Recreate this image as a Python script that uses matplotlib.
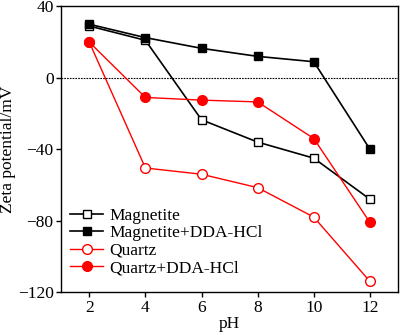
import matplotlib
matplotlib.use("Agg")
import matplotlib.pyplot as plt

plt.rcParams["font.family"] = "Liberation Serif"
plt.rcParams["font.size"] = 12.5

ph = [2, 4, 6, 8, 10, 12]
magnetite = [29, 21, -23.5, -36, -45, -68]
magnetite_dda = [30, 22.5, 16.5, 12, 9, -40]
quartz = [20, -50.5, -54, -61.5, -78, -114]
quartz_dda = [20, -11, -12.5, -13.5, -34, -81]

fig = plt.figure(figsize=(4.0, 3.35), dpi=100)
ax = fig.add_axes([0.153, 0.128, 0.842, 0.853])

ax.axhline(0, color="black", lw=0.8, ls=(0, (1.5, 1)))

ax.plot(ph, magnetite, color="black", lw=1.2, marker="s", ms=6,
        mfc="white", mec="black", mew=1.0, label="Magnetite")
ax.plot(ph, magnetite_dda, color="black", lw=1.2, marker="s", ms=6,
        mfc="black", mec="black", label="Magnetite+DDA-HCl")
ax.plot(ph, quartz, color="red", lw=1.0, marker="o", ms=7,
        mfc="white", mec="red", mew=1.0, label="Quartz")
ax.plot(ph, quartz_dda, color="red", lw=1.0, marker="o", ms=7,
        mfc="red", mec="red", label="Quartz+DDA-HCl")

ax.set_xlim(1, 13)
ax.set_ylim(-120, 40)
ax.set_xticks([2, 4, 6, 8, 10, 12])
ax.set_yticks([-120, -80, -40, 0, 40])
ax.tick_params(direction="out", length=3.5, width=1, pad=2, labelsize=12.5)
ax.set_xlabel("pH", labelpad=0)
ax.set_ylabel("Zeta potential/mV", labelpad=1)
for s in ax.spines.values():
    s.set_linewidth(1)

ax.legend(loc="lower left", bbox_to_anchor=(-0.025, -0.005), frameon=False,
          handlelength=1.9, handletextpad=0.35, labelspacing=0.07,
          borderaxespad=0.6, fontsize=12.5)

fig.savefig("out.png", dpi=100)
